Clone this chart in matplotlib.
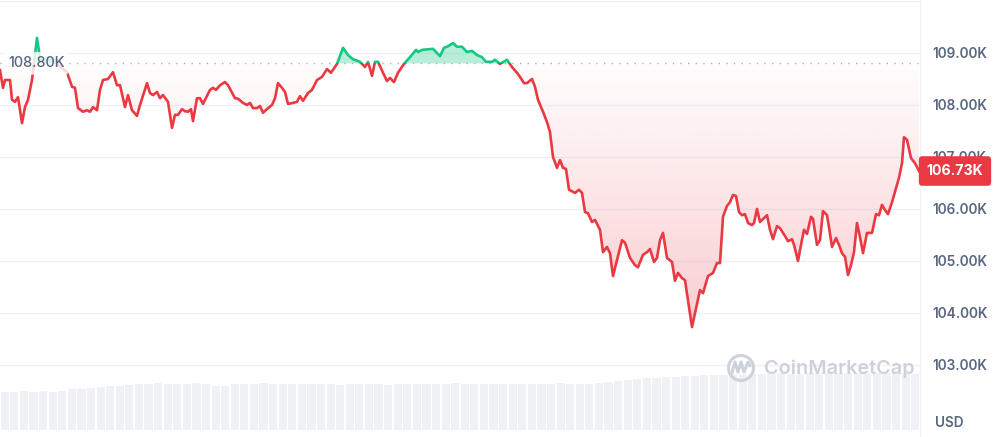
import numpy as np
import matplotlib.pyplot as plt
from matplotlib.patches import Rectangle, PathPatch, Circle
from matplotlib.path import Path

plt.rcParams['font.family'] = ['Inter', 'DejaVu Sans']

# minutes since window start / price in thousands USD
minutes = [0, 3, 5, 10, 12, 15, 18, 22, 25, 28, 32, 37, 40, 44, 47, 50, 54, 58, 62, 67,
           72, 75, 78, 83, 87, 90, 93, 97, 100, 103, 108, 113, 117, 120, 125, 128, 132, 137, 140, 147,
           150, 153, 157, 160, 163, 168, 172, 175, 178, 182, 185, 188, 191, 193, 197, 200, 203, 210, 213, 216,
           220, 225, 228, 235, 238, 243, 247, 250, 253, 257, 260, 263, 268, 272, 275, 278, 282, 285, 288, 293,
           297, 300, 303, 308, 312, 317, 322, 327, 331, 337, 343, 348, 353, 360, 365, 368, 372, 375, 378, 383,
           387, 390, 394, 398, 404, 410, 416, 418, 422, 433, 440, 444, 448, 453, 457, 462, 467, 472, 477, 482,
           486, 492, 495, 500, 507, 512, 517, 520, 524, 527, 532, 535, 538, 543, 547, 550, 553, 557, 560, 563,
           566, 569, 575, 579, 582, 585, 588, 592, 595, 600, 603, 607, 610, 613, 617, 622, 625, 630, 635, 638,
           643, 647, 650, 654, 657, 660, 663, 667, 672, 675, 678, 682, 685, 688, 692, 695, 700, 703, 708, 713,
           717, 720, 723, 727, 730, 733, 736, 739, 742, 745, 748, 752, 754, 757, 760, 767, 770, 773, 777, 780,
           785, 788, 792, 794, 798, 801, 804, 807, 811, 813, 817, 820, 823, 827, 829, 832, 836, 839, 842, 845,
           848, 851, 854, 857, 860, 863, 867, 872, 876, 879, 882, 885, 888, 892, 895, 899, 902, 904, 907, 911,
           915, 919]
price_k = [108.67, 108.33, 108.48, 108.48, 108.10, 108.06, 108.15, 107.65, 107.96, 108.10, 108.48, 109.29, 108.90, 108.81, 108.92, 108.83, 108.90, 108.77, 108.71, 108.63,
           108.35, 108.33, 107.94, 107.87, 107.90, 107.87, 107.96, 107.90, 108.29, 108.48, 108.50, 108.63, 108.38, 108.38, 107.96, 108.19, 107.90, 107.79, 108.00, 108.42,
           108.23, 108.19, 108.25, 108.13, 108.19, 108.06, 107.56, 107.81, 107.81, 107.92, 107.88, 107.87, 107.92, 107.69, 108.13, 108.13, 108.02, 108.29, 108.33, 108.29,
           108.38, 108.44, 108.38, 108.13, 108.12, 108.04, 108.00, 108.04, 107.94, 107.94, 107.98, 107.85, 107.94, 108.00, 108.13, 108.42, 108.33, 108.25, 108.02, 108.04,
           108.06, 108.17, 108.08, 108.23, 108.29, 108.48, 108.54, 108.69, 108.62, 108.79, 109.10, 108.96, 108.88, 108.83, 108.73, 108.83, 108.56, 108.83, 108.83, 108.62,
           108.46, 108.52, 108.44, 108.62, 108.79, 108.92, 109.06, 109.02, 109.06, 109.08, 108.94, 109.10, 109.13, 109.19, 109.12, 109.12, 109.02, 109.04, 108.96, 108.92,
           108.83, 108.83, 108.87, 108.79, 108.87, 108.73, 108.62, 108.54, 108.42, 108.42, 108.50, 108.35, 108.10, 107.87, 107.67, 107.48, 107.00, 106.79, 106.94, 106.79,
           106.77, 106.37, 106.31, 106.37, 106.31, 105.94, 105.92, 105.75, 105.79, 105.60, 105.17, 105.27, 105.15, 104.71, 105.02, 105.40, 105.35, 105.06, 104.92, 104.88,
           105.12, 105.17, 105.23, 104.98, 105.06, 105.40, 105.54, 105.06, 104.98, 104.62, 104.77, 104.67, 104.63, 104.25, 103.73, 104.00, 104.44, 104.38, 104.71, 104.77,
           104.96, 104.96, 105.85, 106.06, 106.13, 106.27, 106.25, 105.94, 105.88, 105.90, 105.73, 105.69, 105.73, 106.00, 105.75, 105.88, 105.60, 105.42, 105.67, 105.63,
           105.48, 105.38, 105.42, 105.31, 105.00, 105.31, 105.60, 105.52, 105.85, 105.81, 105.31, 105.40, 105.96, 105.88, 105.65, 105.27, 105.44, 105.31, 105.15, 105.08,
           104.73, 104.92, 105.17, 105.73, 105.46, 105.15, 105.54, 105.54, 105.90, 105.88, 106.08, 105.98, 105.90, 106.13, 106.33, 106.60, 106.88, 107.38, 107.33, 106.98,
           106.88, 106.73]
open_price_k = 108.80
last_price_k = 106.73

# 15-minute volume buckets (billions USD)
volume_b = [38, 38, 39, 38, 39, 38, 39,
            41, 41, 42, 43,
            44, 44, 45,
            46, 46, 47, 46, 46, 46, 47, 46,
            44, 44,
            46, 46, 46, 47, 46, 46, 46, 46,
            46, 46, 46, 45, 46, 46, 46, 46, 45, 46, 46, 46, 46, 46, 46, 47,
            46, 46, 46, 46, 46, 46, 46, 46, 46, 46, 47, 46, 46, 46, 47,
            48, 49, 50, 51, 52, 52,
            53, 53, 54, 54, 55, 55,
            55, 56, 56, 56, 56, 56, 57, 56, 56,
            57, 57, 57, 57, 57, 57, 57, 57, 57, 57, 57, 56]
y_ticks = [103, 104, 105, 106, 107, 108, 109, 110]

RED = '#ea3943'
GREEN = '#16c784'
GRID = '#eff2f5'
LABEL = '#58667e'
W, H = 996, 437

fig = plt.figure(figsize=(W / 100, H / 100), dpi=100)
fig.patch.set_facecolor('white')

# volume bars
axv = fig.add_axes([0, 7 / H, 920 / W, 100 / H], zorder=0)
axv.bar(np.arange(len(volume_b)), volume_b, width=0.86, color='#eff1f4', linewidth=0)
axv.set_xlim(-0.5, len(volume_b) - 0.5)
axv.set_ylim(0, 100)
axv.axis('off')

# price chart
ax = fig.add_axes([0, 0, 920 / W, 1], zorder=1)
ax.patch.set_alpha(0)
t = np.array(minutes, dtype=float)
p = np.array(price_k)

for s in ['top', 'left', 'bottom']:
    ax.spines[s].set_visible(False)
ax.spines['right'].set_color(GRID)
ax.yaxis.tick_right()
ax.set_yticks(y_ticks)
# top gridline sits at the edge, its label is cut off in the original
ax.set_yticklabels([f'{v:.2f}K' if v < 110 else '' for v in y_ticks])
ax.tick_params(axis='y', length=0, pad=9, labelsize=9.8, labelcolor=LABEL)
for lab in ax.get_yticklabels():
    lab.set_fontweight('semibold')
ax.set_xticks([])
ax.grid(axis='y', color=GRID, lw=1)
ax.set_axisbelow(True)

# green area above open
ax.fill_between(t, p, open_price_k, where=p >= open_price_k, interpolate=True,
                color=GREEN, alpha=0.3, lw=0, zorder=2)

# red gradient below open
red_fill = ax.fill_between(t, p, open_price_k, where=p <= open_price_k, interpolate=True,
                           facecolor='none', edgecolor='none')
clip = PathPatch(Path.make_compound_path(*red_fill.get_paths()), transform=ax.transData,
                 facecolor='none', edgecolor='none')
ax.add_patch(clip)
grad = np.zeros((256, 1, 4))
grad[:, 0, 0] = 234 / 255
grad[:, 0, 1] = 57 / 255
grad[:, 0, 2] = 67 / 255
grad[:, 0, 3] = np.linspace(0.25, 0.01, 256)
im = ax.imshow(grad, extent=(0, 920, p.min(), open_price_k), origin='lower',
               aspect='auto', interpolation='bicubic', zorder=2)
im.set_clip_path(clip)
ax.set_xlim(0, 920)
ax.set_ylim(101.615, 110.019)

# line, split at the open price
for col, y0, y1 in [(GREEN, open_price_k, 111), (RED, 100, open_price_k)]:
    ln, = ax.plot(t, p, color=col, lw=1.9, solid_joinstyle='round', zorder=4)
    r = Rectangle((0, y0), 920, y1 - y0, transform=ax.transData, visible=False)
    ax.add_patch(r)
    ln.set_clip_path(r)

# open price reference
ax.axhline(open_price_k, color='#a6b0c3', lw=1, ls=(0, (1, 4.5)), zorder=3)
ax.text(8, open_price_k, f'{open_price_k:.2f}K', color=LABEL, fontsize=10.4,
        fontweight='medium', ha='left', va='center', zorder=6,
        bbox=dict(boxstyle='round,pad=0.3,rounding_size=0.3', facecolor='white',
                  edgecolor='none', alpha=0.82))

# overlay for watermark and labels
ov = fig.add_axes([0, 0, 1, 1], zorder=2)
ov.patch.set_alpha(0)
ov.set_xlim(0, W)
ov.set_ylim(H, 0)
ov.axis('off')

wm = '#cdd2da'
ov.add_patch(Circle((741, 368), 12.5, facecolor='none', edgecolor=wm, lw=2.2))
wave = np.array([[732, 373], [735, 362], [738, 372], [741, 362], [744, 372], [748, 362], [750, 366]])
ov.plot(wave[:, 0], wave[:, 1], color=wm, lw=2.2, solid_joinstyle='round', solid_capstyle='round')
ov.text(764, 369, 'CoinMarketCap', color=wm, fontsize=14.3, fontweight='semibold',
        ha='left', va='center')

ov.text(935, 423, 'USD', color=LABEL, fontsize=9.8, fontweight='semibold', ha='left', va='center')
ov.text(955, 171, f'{last_price_k:.2f}K', color='white', fontsize=10.2, fontweight='bold',
        ha='center', va='center',
        bbox=dict(boxstyle='round,pad=0.55,rounding_size=0.25', facecolor=RED, edgecolor='none'))

fig.savefig('out.png', dpi=100, facecolor='white')
